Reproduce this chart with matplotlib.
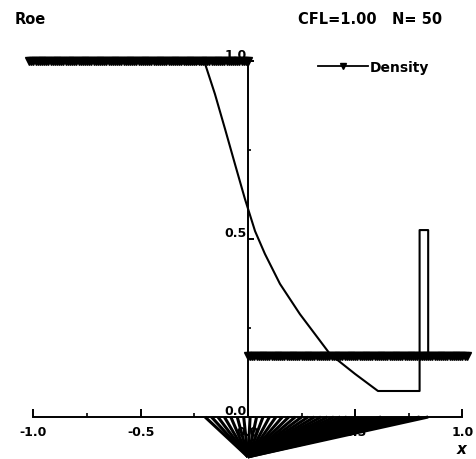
import numpy as np
import matplotlib
matplotlib.use("Agg")
import matplotlib.pyplot as plt
from matplotlib.ticker import FixedLocator

plt.rcParams['font.family'] = ['DejaVu Sans']
plt.rcParams['font.weight'] = 'bold'

# ---------------- data ----------------
# cell centres where the density markers are drawn
cells_left = np.linspace(-1.02, 0.0, 103)
cells_right = np.linspace(0.0, 1.02, 103)
density_left = 1.0
density_right = 0.17

# exact / reference solution curve
sol_x = [-1.02, -0.200, -0.154, -0.107, -0.061, -0.014, 0.033, 0.079, 0.149,
         0.242, 0.382, 0.499, 0.606, 0.80, 0.80, 0.84, 0.84, 1.02]
sol_y = [1.0, 0.992, 0.907, 0.809, 0.711, 0.612, 0.522, 0.458, 0.374,
         0.289, 0.177, 0.121, 0.073, 0.073, 0.525, 0.525, 0.17, 0.17]

# wave-fan (characteristics) below the axis
fan_apex = (0.0, -0.112)
fan_feet = [-0.20, -0.17, -0.14, -0.11, -0.08, -0.05, -0.02, 0.01, 0.04, 0.07,
            0.10, 0.13, 0.16, 0.19, 0.22, 0.25, 0.28, 0.31, 0.34, 0.37, 0.40,
            0.43, 0.46, 0.62, 0.80, 0.84]
wedge_feet = [0.46, 0.83]

x_major = [-1.0, -0.5, 0.0, 0.5, 1.0]
x_minor = [-0.75, -0.25, 0.25, 0.75]
y_major = [0.0, 0.5, 1.0]
y_minor = [0.25, 0.75]

# ---------------- figure ----------------
fig = plt.figure(figsize=(4.77, 4.60), dpi=100)
ax = fig.add_axes([0, 0, 1, 1])
ax.set_xlim(-1.156, 1.0676)
ax.set_ylim(-0.118, 1.174)

# fan
ax.fill([fan_apex[0], wedge_feet[0], wedge_feet[1]],
        [fan_apex[1], 0.0, 0.0], color='black', lw=0, zorder=1)
for f in fan_feet:
    ax.plot([fan_apex[0], f], [fan_apex[1], 0.0], color='black', lw=2.2,
            solid_capstyle='butt', zorder=1)

# solution curve
ax.plot(sol_x, sol_y, color='black', lw=1.5, zorder=2,
        solid_joinstyle='round')

# density markers
ax.plot(cells_left, np.full(len(cells_left), density_left), color='black',
        lw=1.8, marker='v', ms=5.5, markevery=1, label='Density', zorder=3)
ax.plot(cells_right, np.full(len(cells_right), density_right), color='black',
        lw=1.8, marker='v', ms=5.5, markevery=1, zorder=3)

# axes through origin
for s in ['top', 'right']:
    ax.spines[s].set_visible(False)
ax.spines['left'].set_position(('data', 0))
ax.spines['bottom'].set_position(('data', 0))
ax.spines['left'].set_bounds(0, 1)
ax.spines['bottom'].set_bounds(-1, 1)
ax.spines['left'].set_linewidth(1.4)
ax.spines['bottom'].set_linewidth(1.4)
ax.spines['left'].set_zorder(4)
ax.spines['bottom'].set_zorder(4)

ax.xaxis.set_major_locator(FixedLocator(x_major))
ax.xaxis.set_minor_locator(FixedLocator(x_minor))
ax.yaxis.set_major_locator(FixedLocator(y_major))
ax.yaxis.set_minor_locator(FixedLocator(y_minor))
ax.set_xticklabels([f"{v:.1f}" for v in x_major])
ax.set_yticklabels([f"{v:.1f}" for v in y_major])
ax.tick_params(axis='x', which='major', direction='in', length=6, width=1.4,
               labelsize=9, pad=6)
ax.tick_params(axis='x', which='minor', direction='in', length=3, width=1.2)
ax.tick_params(axis='y', which='major', direction='in', length=4, width=1.4,
               labelsize=9, pad=1)
ax.tick_params(axis='y', which='minor', direction='in', length=2, width=1.2)
for lab in ax.get_yticklabels():
    lab.set_verticalalignment('bottom')
for lab in ax.get_xticklabels() + ax.get_yticklabels():
    lab.set_fontweight('bold')

# texts
fig.text(15 / 477, 1 - 20 / 460, 'Roe', fontsize=10.5, fontweight='bold',
         ha='left', va='center')
fig.text(298 / 477, 1 - 20 / 460, 'CFL=1.00   N= 50', fontsize=10.5,
         fontweight='bold', ha='left', va='center')
fig.text(462 / 477, 1 - 450 / 460, 'x', fontsize=11, fontweight='bold',
         style='italic', ha='center', va='center')

leg = ax.legend(loc='center left', bbox_to_anchor=(318 / 477, 1 - 68 / 460),
                bbox_transform=fig.transFigure, frameon=False, borderpad=0,
                borderaxespad=0, handlelength=3.6, handletextpad=0.15,
                numpoints=1, prop={'size': 10, 'weight': 'bold'})
for h in leg.legend_handles:
    h.set_markersize(5)
    h.set_linewidth(1.3)

fig.savefig('out.png', dpi=100)
